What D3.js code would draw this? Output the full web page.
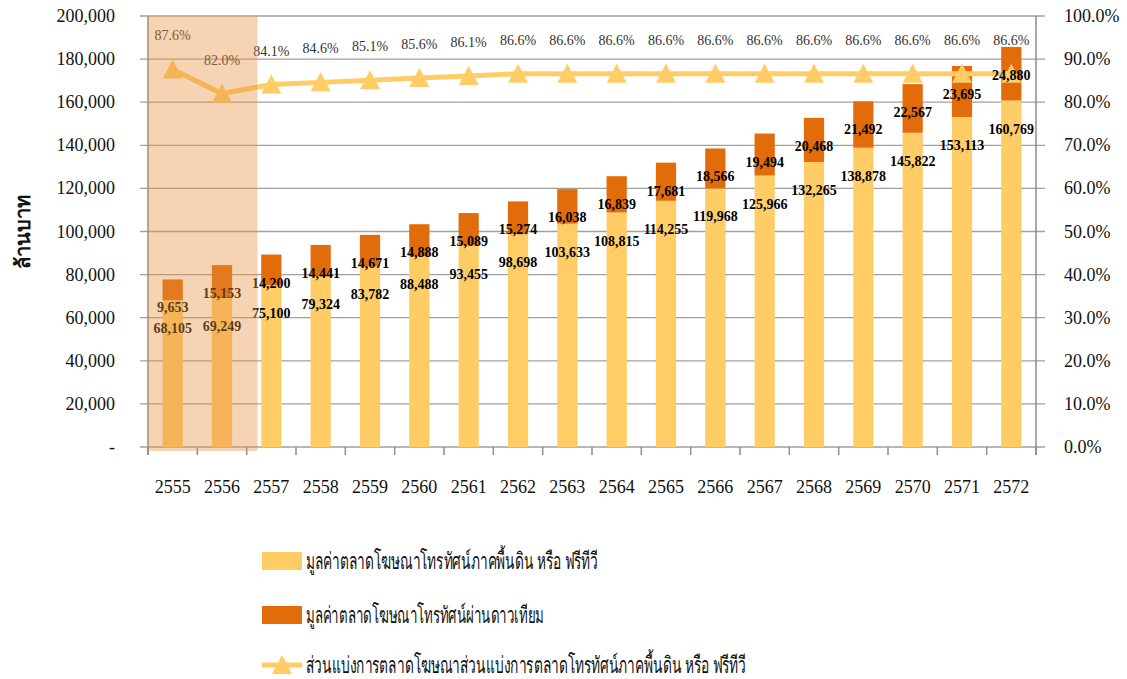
<!DOCTYPE html>
<html>
<head>
<meta charset="utf-8">
<script src="https://cdn.jsdelivr.net/npm/d3@7"></script>
<style>
	body { margin: 0; background: #fff; }
	svg { display: block; }
	text { font-family: 'Liberation Serif', 'Times New Roman', serif; }
</style>
</head>
<body>
<svg id="chart"></svg>
<script>
var years = ["2555", "2556", "2557", "2558", "2559", "2560", "2561", "2562", "2563", "2564", "2565", "2566", "2567", "2568", "2569", "2570", "2571", "2572"];
var freeTv = [68105, 69249, 75100, 79324, 83782, 88488, 93455, 98698, 103633, 108815, 114255, 119968, 125966, 132265, 138878, 145822, 153113, 160769];
var satellite = [9653, 15153, 14200, 14441, 14671, 14888, 15089, 15274, 16038, 16839, 17681, 18566, 19494, 20468, 21492, 22567, 23695, 24880];
var share = [87.6, 82.0, 84.1, 84.6, 85.1, 85.6, 86.1, 86.6, 86.6, 86.6, 86.6, 86.6, 86.6, 86.6, 86.6, 86.6, 86.6, 86.6];
var leftTicks = [0, 20000, 40000, 60000, 80000, 100000, 120000, 140000, 160000, 180000, 200000];
var rightTicks = [0, 10, 20, 30, 40, 50, 60, 70, 80, 90, 100];
var shadedYears = ["2555", "2556"];
var legendLabels = [
	"มูลค่าตลาดโฆษณาโทรทัศน์ภาคพื้นดิน หรือ ฟรีทีวี",
	"มูลค่าตลาดโฆษณาโทรทัศน์ผ่านดาวเทียม",
	"ส่วนแบ่งการตลาดโฆษณาส่วนแบ่งการตลาดโทรทัศน์ภาคพื้นดิน หรือ ฟรีทีวี"
];

var width = 1127, height = 679;
var margin = {top: 16, left: 148, right: 1036, bottom: 447};
var colorFree = "#FFCC66", colorSat = "#E36C0A", gridColor = "#a0a0a0", axisColor = "#8c8c8c";

var svg = d3.select("#chart").attr("width", width).attr("height", height);

var x = d3.scaleBand().domain(years).range([margin.left, margin.right]);
var y = d3.scaleLinear().domain([0, 200000]).range([margin.bottom, margin.top]);
var y2 = d3.scaleLinear().domain([0, 100]).range([margin.bottom, margin.top]);
var barWidth = x.bandwidth() * 0.41;

// gridlines (they stick out a little past both axes, like tick marks)
svg.append("g").selectAll("line").data(leftTicks).enter().append("line")
	.attr("x1", margin.left - 8).attr("x2", margin.right + 9)
	.attr("y1", function(d) { return y(d); }).attr("y2", function(d) { return y(d); })
	.style("stroke", gridColor).style("stroke-width", 1.3);

// left axis labels
var fmt = d3.format(",");
svg.append("g").selectAll("text").data(leftTicks).enter().append("text")
	.attr("x", 115).attr("y", function(d) { return y(d) + 6; })
	.attr("text-anchor", "end")
	.style("font-size", "18px").style("fill", "#111")
	.text(function(d) { return d == 0 ? "-" : fmt(d); });

// right axis labels
svg.append("g").selectAll("text").data(rightTicks).enter().append("text")
	.attr("x", 1064).attr("y", function(d) { return y2(d) + 6; })
	.style("font-size", "18px").style("fill", "#111")
	.text(function(d) { return d.toFixed(1) + "%"; });

// axis lines
svg.append("line").attr("x1", margin.left).attr("x2", margin.left).attr("y1", margin.top).attr("y2", margin.bottom + 8)
	.style("stroke", axisColor).style("stroke-width", 1.5);
svg.append("line").attr("x1", margin.right).attr("x2", margin.right).attr("y1", margin.top).attr("y2", margin.bottom + 8)
	.style("stroke", axisColor).style("stroke-width", 1.5);

// x tick marks at band edges
var edges = years.map(function(d) { return x(d); }).concat([margin.right]);
svg.append("g").selectAll("line").data(edges).enter().append("line")
	.attr("x1", function(d) { return d; }).attr("x2", function(d) { return d; })
	.attr("y1", margin.bottom).attr("y2", margin.bottom + 8)
	.style("stroke", axisColor).style("stroke-width", 1.5);

// x labels
svg.append("g").selectAll("text").data(years).enter().append("text")
	.attr("x", function(d) { return x(d) + x.bandwidth() / 2; })
	.attr("y", 493)
	.attr("text-anchor", "middle")
	.style("font-size", "18px").style("fill", "#111")
	.text(function(d) { return d; });

// y axis title
svg.append("text")
	.attr("transform", "translate(30,232) rotate(-90)")
	.attr("text-anchor", "middle")
	.style("font-size", "20px").style("font-weight", "bold").style("fill", "#111")
	.text("ล้านบาท");

// stacked bars
var bars = svg.append("g");
years.forEach(function(year, i) {
	var bx = x(year) + (x.bandwidth() - barWidth) / 2;
	bars.append("rect")
		.attr("x", bx).attr("width", barWidth)
		.attr("y", y(freeTv[i])).attr("height", y(0) - y(freeTv[i]))
		.style("fill", colorFree);
	bars.append("rect")
		.attr("x", bx).attr("width", barWidth)
		.attr("y", y(freeTv[i] + satellite[i])).attr("height", y(freeTv[i]) - y(freeTv[i] + satellite[i]))
		.style("fill", colorSat);
});

// share line
var cx = function(d, i) { return x(years[i]) + x.bandwidth() / 2; };
var line = d3.line().x(cx).y(function(d) { return y2(d); });
svg.append("path").datum(share)
	.attr("d", line)
	.style("fill", "none").style("stroke", colorFree).style("stroke-width", 5);
svg.append("g").selectAll("path").data(share).enter().append("path")
	.attr("d", "M0,-10 L10,9 L-10,9 Z")
	.attr("transform", function(d, i) { return "translate(" + cx(d, i) + "," + y2(d) + ")"; })
	.style("fill", colorFree);

// bar labels, placed a bit under the top of each segment
var labels = svg.append("g").style("font-size", "14px").style("font-weight", "bold").style("fill", "#000");
years.forEach(function(year, i) {
	var lx = x(year) + x.bandwidth() / 2;
	labels.append("text").attr("x", lx).attr("y", y(freeTv[i]) + 33).attr("text-anchor", "middle").text(fmt(freeTv[i]));
	labels.append("text").attr("x", lx).attr("y", y(freeTv[i] + satellite[i]) + 33).attr("text-anchor", "middle").text(fmt(satellite[i]));
});

// share labels
svg.append("g").selectAll("text").data(share).enter().append("text")
	.attr("x", cx).attr("y", function(d) { return y2(d) - 29; })
	.attr("text-anchor", "middle")
	.style("font-size", "14px").style("fill", "#333")
	.text(function(d) { return d.toFixed(1) + "%"; });

// shaded actual-years block on top of everything
var shadeX0 = x(shadedYears[0]);
var shadeX1 = x(shadedYears[shadedYears.length - 1]) + x.bandwidth() * 1.22;
svg.append("rect")
	.attr("x", shadeX0).attr("y", margin.top)
	.attr("width", shadeX1 - shadeX0).attr("height", margin.bottom + 4 - margin.top)
	.style("fill", "rgb(230,145,65)").style("fill-opacity", 0.4);

// legend - the original thai font is a narrow one, so squeeze the text to its width
var legend = svg.append("g");
var legendY = [561, 615, 665];
var legendWidth = [292, 238, 440];
legendLabels.forEach(function(label, i) {
	var row = legend.append("g").attr("transform", "translate(262," + legendY[i] + ")");
	if (i < 2) {
		row.append("rect").attr("x", 0).attr("y", -9).attr("width", 40).attr("height", 18)
			.style("fill", i == 0 ? colorFree : colorSat);
	}
	else {
		row.append("line").attr("x1", 0).attr("x2", 40).attr("y1", 0).attr("y2", 0)
			.style("stroke", colorFree).style("stroke-width", 5);
		row.append("path").attr("d", "M0,-10 L10,9 L-10,9 Z").attr("transform", "translate(20,0)")
			.style("fill", colorFree);
	}
	row.append("text").attr("x", 44).attr("y", 8)
		.attr("textLength", legendWidth[i]).attr("lengthAdjust", "spacingAndGlyphs")
		.style("font-size", "23px").style("fill", "#111")
		.text(label);
});
</script>
</body>
</html>
